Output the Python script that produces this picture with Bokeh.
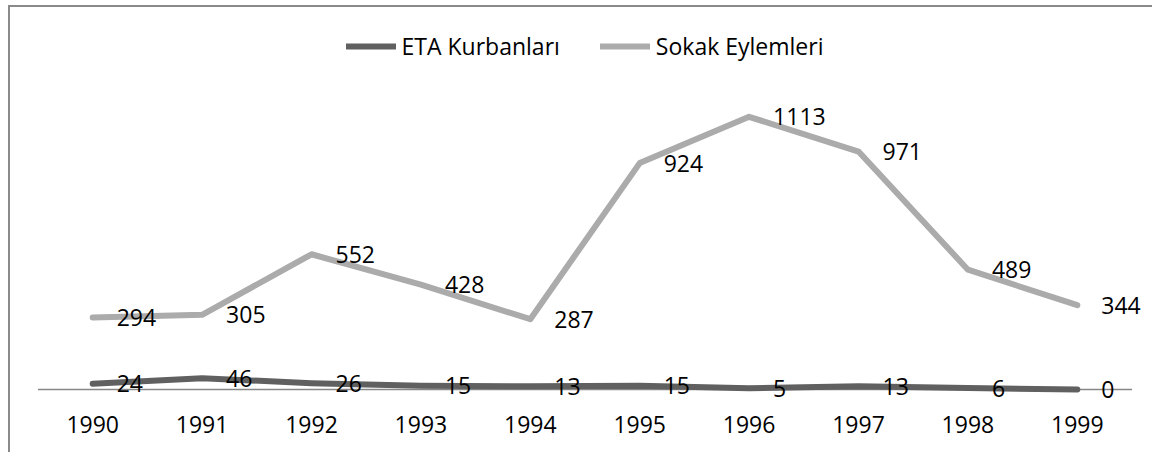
from bokeh.plotting import figure
from bokeh.models import FactorRange, Range1d, Legend, LegendItem, ColumnDataSource, LabelSet
from bokeh.core.properties import value
from bokeh.embed import file_html
from bokeh.resources import INLINE

# ---- data ----
years = ["1990", "1991", "1992", "1993", "1994", "1995", "1996", "1997", "1998", "1999"]
eta_kurbanlari = [24, 46, 26, 15, 13, 15, 5, 13, 6, 0]
sokak_eylemleri = [294, 305, 552, 428, 287, 924, 1113, 971, 489, 344]
series_names = ["ETA Kurbanları", "Sokak Eylemleri"]

# ---- styles ----
FONT = "Open Sans"
FONT_SIZE = "23px"
ETA_COLOR = "#606060"
SOKAK_COLOR = "#ababab"
AXIS_COLOR = "#878787"
BORDER_COLOR = "#8a8a8a"

src = ColumnDataSource(dict(
    year=years,
    eta=eta_kurbanlari,
    sokak=sokak_eylemleri,
    eta_lbl=[str(v) for v in eta_kurbanlari],
    sokak_lbl=[str(v) for v in sokak_eylemleri],
))

p = figure(
    width=1144, height=447,
    x_range=FactorRange(factors=years, range_padding=0.2055, range_padding_units="absolute"),
    y_range=Range1d(-77.5, 1559),
    output_backend="svg", toolbar_location=None,
    y_axis_location=None,
    min_border_left=5, min_border_right=0,
    min_border_top=0, min_border_bottom=46,
)
p.styles = {
    "border-top": f"2px solid {BORDER_COLOR}",
    "border-left": f"2px solid {BORDER_COLOR}",
    "margin-top": "5px",
    "margin-left": "8px",
}
p.outline_line_color = None
p.xgrid.grid_line_color = None
p.ygrid.grid_line_color = None
p.background_fill_color = "white"
p.border_fill_color = "white"

# x axis (labels only; its line is drawn at value 0 below)
ax = p.xaxis[0]
ax.axis_line_color = None
ax.major_tick_line_color = None
ax.minor_tick_line_color = None
ax.major_label_text_font = FONT
ax.major_label_text_font_size = FONT_SIZE
ax.major_label_text_color = "#000000"
ax.major_label_standoff = 1

# category axis line at value 0, spanning the category band
p.segment(x0=[[years[0], -0.5]], y0=[0], x1=[[years[-1], 0.5]], y1=[0],
          line_color=AXIS_COLOR, line_width=1.5)

r_sokak = p.line("year", "sokak", source=src, line_color=SOKAK_COLOR, line_width=6,
                 line_cap="round", line_join="round")
r_eta = p.line("year", "eta", source=src, line_color=ETA_COLOR, line_width=6,
               line_cap="round", line_join="round")

for col in ("sokak", "eta"):
    p.add_layout(LabelSet(x="year", y=col, text=col + "_lbl", source=src, x_offset=24,
                          text_align="left", text_baseline="middle",
                          text_font=value(FONT), text_font_size=value(FONT_SIZE),
                          text_color="#000000"))

legend = Legend(
    items=[LegendItem(label=series_names[0], renderers=[r_eta]),
           LegendItem(label=series_names[1], renderers=[r_sokak])],
    orientation="horizontal", location="top_center",
    border_line_color=None, background_fill_alpha=0,
    label_text_font=FONT, label_text_font_size=FONT_SIZE, label_text_color="#000000",
    glyph_width=50, glyph_height=20, label_standoff=6, spacing=40,
    padding=0, margin=23,
)
p.add_layout(legend)

open("out.html", "w").write(file_html(p, INLINE))
